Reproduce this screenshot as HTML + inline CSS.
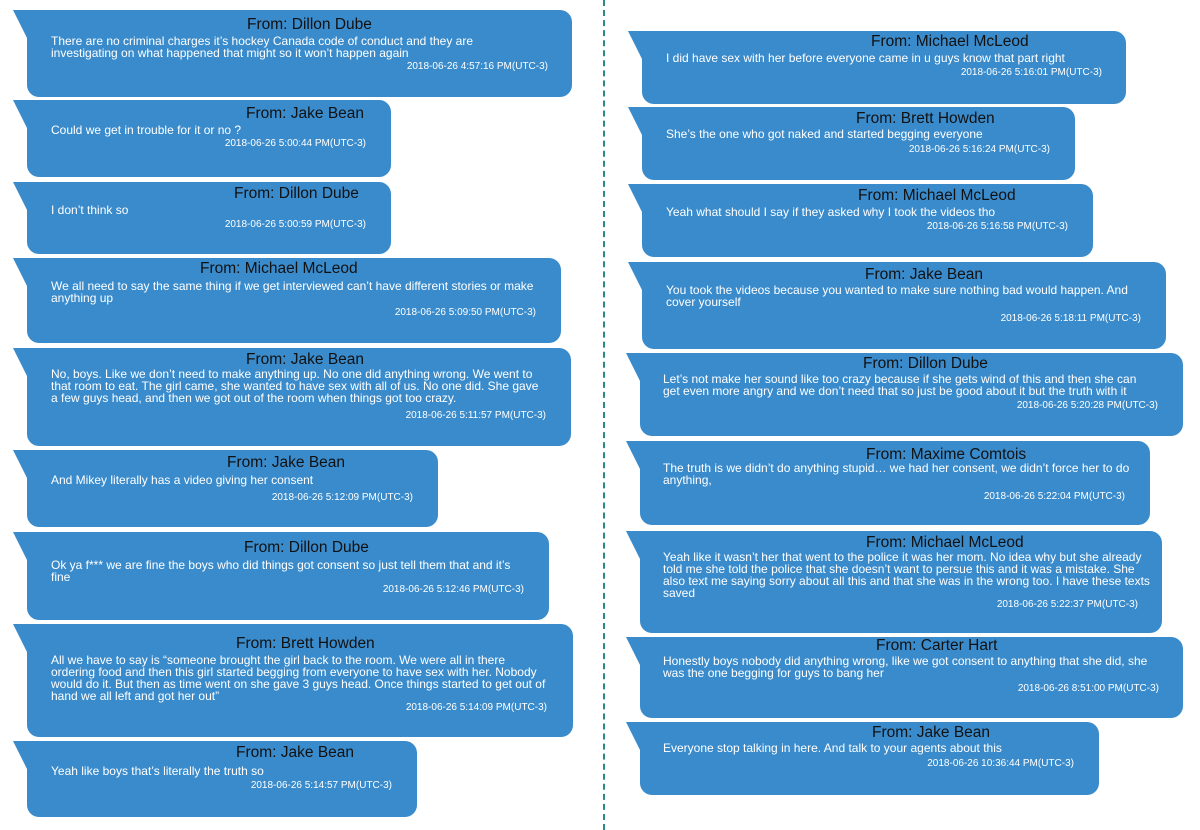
<!DOCTYPE html>
<html><head><meta charset="utf-8"><style>
body{margin:0;width:1200px;height:830px;background:#fff;position:relative;overflow:hidden;font-family:"Liberation Sans",Arial,sans-serif}
.b{position:absolute;background:#3a8bcc;border-radius:12px}
.b:before{content:"";position:absolute;left:-14px;top:0;border-top:28px solid #3a8bcc;border-left:14px solid transparent}
.t{position:absolute;font-size:15.5px;color:#111;white-space:nowrap;line-height:18px}
.x{position:absolute;font-size:12px;color:#fff;line-height:12px;white-space:nowrap}
.s{position:absolute;font-size:10px;color:#fff;white-space:nowrap;line-height:12px}
.d{position:absolute;left:603px;top:0;height:830px;border-left:2px dashed #2a8a8a}
</style></head><body>
<div class="d"></div>
<div class="b" style="left:27px;top:10px;width:545px;height:87px;border-top-left-radius:0"></div>
<div class="b" style="left:27px;top:100px;width:364px;height:77px;border-top-left-radius:0"></div>
<div class="b" style="left:27px;top:182px;width:364px;height:72px;border-top-left-radius:0"></div>
<div class="b" style="left:27px;top:258px;width:534px;height:85px;border-top-left-radius:0"></div>
<div class="b" style="left:27px;top:348px;width:544px;height:98px;border-top-left-radius:0"></div>
<div class="b" style="left:27px;top:450px;width:411px;height:77px;border-top-left-radius:0"></div>
<div class="b" style="left:27px;top:532px;width:522px;height:88px;border-top-left-radius:0"></div>
<div class="b" style="left:27px;top:624px;width:546px;height:113px;border-top-left-radius:0"></div>
<div class="b" style="left:27px;top:741px;width:390px;height:76px;border-top-left-radius:0"></div>

<div class="b" style="left:642px;top:31px;width:484px;height:73px;border-top-left-radius:0"></div>
<div class="b" style="left:642px;top:107px;width:433px;height:73px;border-top-left-radius:0"></div>
<div class="b" style="left:642px;top:184px;width:451px;height:73px;border-top-left-radius:0"></div>
<div class="b" style="left:642px;top:262px;width:524px;height:87px;border-top-left-radius:0"></div>
<div class="b" style="left:640px;top:353px;width:543px;height:83px;border-top-left-radius:0"></div>
<div class="b" style="left:640px;top:441px;width:510px;height:84px;border-top-left-radius:0"></div>
<div class="b" style="left:640px;top:531px;width:522px;height:102px;border-top-left-radius:0"></div>
<div class="b" style="left:640px;top:637px;width:543px;height:81px;border-top-left-radius:0"></div>
<div class="b" style="left:640px;top:722px;width:459px;height:73px;border-top-left-radius:0"></div>

<div class="t" style="left:247px;top:16px">From: Dillon Dube</div>
<div class="x" style="left:51px;top:35px">There are no criminal charges it’s hockey Canada code of conduct and they are<br>investigating on what happened that might so it won’t happen again</div>
<div class="s" style="right:652px;top:61px">2018-06-26 4:57:16 PM(UTC-3)</div>

<div class="t" style="left:246px;top:105px">From: Jake Bean</div>
<div class="x" style="left:51px;top:124px">Could we get in trouble for it or no ?</div>
<div class="s" style="right:834px;top:138px">2018-06-26 5:00:44 PM(UTC-3)</div>

<div class="t" style="left:234px;top:185px">From: Dillon Dube</div>
<div class="x" style="left:51px;top:204px">I don’t think so</div>
<div class="s" style="right:834px;top:219px">2018-06-26 5:00:59 PM(UTC-3)</div>

<div class="t" style="left:200px;top:260px">From: Michael McLeod</div>
<div class="x" style="left:51px;top:280px">We all need to say the same thing if we get interviewed can’t have different stories or make<br>anything up</div>
<div class="s" style="right:664px;top:307px">2018-06-26 5:09:50 PM(UTC-3)</div>

<div class="t" style="left:246px;top:351px">From: Jake Bean</div>
<div class="x" style="left:51px;top:368px">No, boys. Like we don’t need to make anything up. No one did anything wrong. We went to<br>that room to eat. The girl came, she wanted to have sex with all of us. No one did. She gave<br>a few guys head, and then we got out of the room when things got too crazy.</div>
<div class="s" style="right:654px;top:410px">2018-06-26 5:11:57 PM(UTC-3)</div>

<div class="t" style="left:227px;top:454px">From: Jake Bean</div>
<div class="x" style="left:51px;top:474px">And Mikey literally has a video giving her consent</div>
<div class="s" style="right:787px;top:492px">2018-06-26 5:12:09 PM(UTC-3)</div>

<div class="t" style="left:244px;top:539px">From: Dillon Dube</div>
<div class="x" style="left:51px;top:559px">Ok ya f*** we are fine the boys who did things got consent so just tell them that and it’s<br>fine</div>
<div class="s" style="right:676px;top:584px">2018-06-26 5:12:46 PM(UTC-3)</div>

<div class="t" style="left:236px;top:635px">From: Brett Howden</div>
<div class="x" style="left:51px;top:654px">All we have to say is “someone brought the girl back to the room. We were all in there<br>ordering food and then this girl started begging from everyone to have sex with her. Nobody<br>would do it. But then as time went on she gave 3 guys head. Once things started to get out of<br>hand we all left and got her out”</div>
<div class="s" style="right:653px;top:702px">2018-06-26 5:14:09 PM(UTC-3)</div>

<div class="t" style="left:236px;top:744px">From: Jake Bean</div>
<div class="x" style="left:51px;top:765px">Yeah like boys that’s literally the truth so</div>
<div class="s" style="right:808px;top:780px">2018-06-26 5:14:57 PM(UTC-3)</div>

<div class="t" style="left:871px;top:33px">From: Michael McLeod</div>
<div class="x" style="left:666px;top:52px">I did have sex with her before everyone came in u guys know that part right</div>
<div class="s" style="right:98px;top:67px">2018-06-26 5:16:01 PM(UTC-3)</div>

<div class="t" style="left:856px;top:110px">From: Brett Howden</div>
<div class="x" style="left:666px;top:128px">She’s the one who got naked and started begging everyone</div>
<div class="s" style="right:150px;top:144px">2018-06-26 5:16:24 PM(UTC-3)</div>

<div class="t" style="left:858px;top:187px">From: Michael McLeod</div>
<div class="x" style="left:666px;top:206px">Yeah what should I say if they asked why I took the videos tho</div>
<div class="s" style="right:132px;top:221px">2018-06-26 5:16:58 PM(UTC-3)</div>

<div class="t" style="left:865px;top:266px">From: Jake Bean</div>
<div class="x" style="left:666px;top:284px">You took the videos because you wanted to make sure nothing bad would happen. And<br>cover yourself</div>
<div class="s" style="right:59px;top:313px">2018-06-26 5:18:11 PM(UTC-3)</div>

<div class="t" style="left:863px;top:355px">From: Dillon Dube</div>
<div class="x" style="left:663px;top:373px">Let’s not make her sound like too crazy because if she gets wind of this and then she can<br>get even more angry and we don’t need that so just be good about it but the truth with it</div>
<div class="s" style="right:42px;top:400px">2018-06-26 5:20:28 PM(UTC-3)</div>

<div class="t" style="left:866px;top:446px">From: Maxime Comtois</div>
<div class="x" style="left:663px;top:462px">The truth is we didn’t do anything stupid… we had her consent, we didn’t force her to do<br>anything,</div>
<div class="s" style="right:75px;top:491px">2018-06-26 5:22:04 PM(UTC-3)</div>

<div class="t" style="left:866px;top:534px">From: Michael McLeod</div>
<div class="x" style="left:663px;top:551px">Yeah like it wasn’t her that went to the police it was her mom. No idea why but she already<br>told me she told the police that she doesn’t want to persue this and it was a mistake. She<br>also text me saying sorry about all this and that she was in the wrong too. I have these texts<br>saved</div>
<div class="s" style="right:62px;top:599px">2018-06-26 5:22:37 PM(UTC-3)</div>

<div class="t" style="left:876px;top:637px">From: Carter Hart</div>
<div class="x" style="left:663px;top:655px">Honestly boys nobody did anything wrong, like we got consent to anything that she did, she<br>was the one begging for guys to bang her</div>
<div class="s" style="right:41px;top:683px">2018-06-26 8:51:00 PM(UTC-3)</div>

<div class="t" style="left:872px;top:724px">From: Jake Bean</div>
<div class="x" style="left:663px;top:742px">Everyone stop talking in here. And talk to your agents about this</div>
<div class="s" style="right:126px;top:758px">2018-06-26 10:36:44 PM(UTC-3)</div>
</body></html>
